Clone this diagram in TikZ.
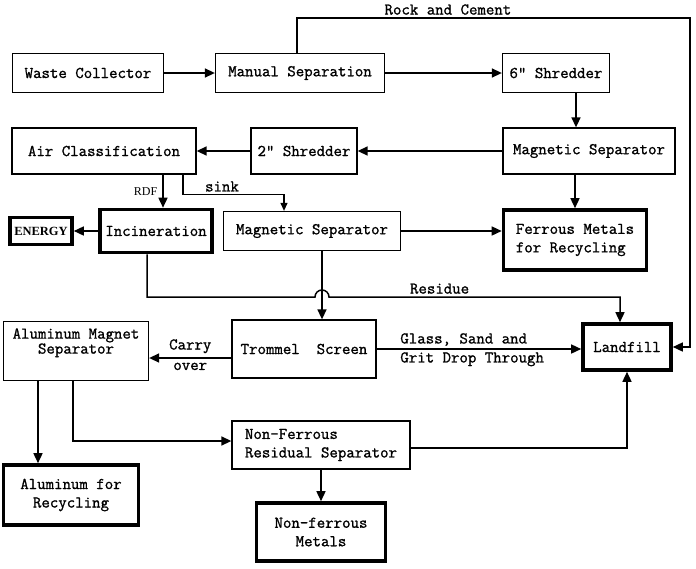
\documentclass[tikz,border=0pt]{standalone}
\usepackage{fontspec}
\setmonofont{Latin Modern Mono}[FakeBold=1.2]
\newfontfamily\serifrm{Liberation Serif}
\usepackage{tikz}
\usetikzlibrary{
  arrows.meta
}
\tikzset{
  box/.style={
    draw,
    line width=1.3pt,
    align=center,
    inner sep=0pt
  },
  endbox/.style={
    box,
    line width=3.6pt
  },
  flow/.style={
    -{Triangle[length=10pt,width=9pt]},
    line width=1.5pt
  },
  thinflow/.style={
    -{Triangle[length=8pt,width=7pt]},
    line width=1.2pt
  },
  tag/.style={
    inner sep=2.5pt
  }
}

\begin{document}
\begin{tikzpicture}[
  x=1pt,
  y=-1pt,
  font=\ttfamily\fontsize{16.4}{18.5}\selectfont
]

  \useasboundingbox (0,0) rectangle (696,568);

  % top row
  \node[
    box,
    minimum width=151pt,
    minimum height=39pt
  ] (waste) at (88,73) {Waste Collector};

  \node[
    box,
    minimum width=169pt,
    minimum height=39pt
  ] (manual) at (300,73) {Manual Separation};

  \node[
    box,
    minimum width=107pt,
    minimum height=39pt
  ] (shred6) at (556,73) {6" Shredder};

  % second row
  \node[
    box,
    minimum width=172pt,
    minimum height=46pt
  ] (magsep1) at (589,151) {Magnetic Separator};

  \node[
    box,
    minimum width=106pt,
    minimum height=46pt
  ] (shred2) at (304,151) {2" Shredder};

  \node[
    box,
    minimum width=184pt,
    minimum height=46pt
  ] (air) at (104,151) {Air Classification};

  % third row
  \node[
    endbox,
    minimum width=62pt,
    minimum height=27pt,
    font=\serifrm\bfseries\fontsize{12.5}{14}\selectfont
  ] (energy) at (41,231) {ENERGY};

  \node[
    endbox,
    minimum width=112pt,
    minimum height=43pt
  ] (incin) at (156,231) {Incineration};

  \node[
    box,
    minimum width=177pt,
    minimum height=39pt
  ] (magsep2) at (312,231) {Magnetic Separator};

  \node[
    endbox,
    minimum width=143pt,
    minimum height=60pt,
    align=left
  ] (ferrous) at (575,240) {
    Ferrous Metals\\
    for Recycling
  };

  % fourth row
  \node[
    box,
    minimum width=144pt,
    minimum height=58pt
  ] (trommel) at (304,349) {Trommel\ \ Screen};

  \node[
    endbox,
    minimum width=88pt,
    minimum height=46pt
  ] (landfill) at (627,347) {Landfill};

  \node[
    box,
    minimum width=145pt,
    minimum height=59pt
  ] (alsep) at (76,351) {};

  \node[
    align=center,
    anchor=north,
    font=\ttfamily\fontsize{16.4}{13.5}\selectfont
  ] (alseptext) at ([yshift=-4pt]alsep.north) {
    Aluminum Magnet\\
    Separator
  };

  % bottom rows
  \node[
    box,
    minimum width=178pt,
    minimum height=48pt,
    align=left
  ] (nfrs) at (321,445) {
    Non-Ferrous\\
    Residual Separator
  };

  \node[
    endbox,
    minimum width=135pt,
    minimum height=60pt
  ] (alrec) at (71,495) {
    Aluminum for\\
    Recycling
  };

  \node[
    endbox,
    minimum width=129pt,
    minimum height=58pt
  ] (nfmet) at (321,532) {
    Non-ferrous\\
    Metals
  };

  % helper points
  \coordinate (rockCorner) at (690,18);
  \coordinate (sinkEnd) at ([xshift=-28pt]magsep2.north);
  \coordinate (hopStart) at (315,297);
  \coordinate (resDrop) at ([xshift=-7pt]landfill.north);

  % connectors
  \draw[flow] (waste) -- (manual);
  \draw[flow] (manual) -- (shred6);

  \draw[flow]
  ([xshift=-3pt]manual.north) --
  ([xshift=-3pt]manual.north |- rockCorner) --
  node[
    tag,
    above,
    pos=0.384
  ] {
    Rock and Cement
  }
  (rockCorner) |- (landfill.east);

  \draw[flow]
  ([xshift=20pt]shred6.south) --
  ([xshift=20pt]shred6.south |- magsep1.north);

  \draw[flow] (magsep1) -- (shred2);
  \draw[flow] (shred2) -- (air);
  \draw[flow] (magsep1.south -| ferrous.north) -- (ferrous.north);

  \draw[flow]
  ([xshift=7pt]incin.north |- air.south) --
  node[
    tag,
    left,
    inner sep=5pt,
    font=\serifrm\fontsize{12}{14}\selectfont
  ] {
    RDF
  }
  ([xshift=7pt]incin.north);

  \draw[thinflow]
  ([xshift=79pt]air.south) -- ++(0,20) coordinate (sinkBend) --
  node[
    tag,
    above,
    pos=0.386
  ] {
    sink
  }
  (sinkBend -| sinkEnd) -- (sinkEnd);

  \draw[flow] (incin) -- (energy);
  \draw[flow] (magsep2.east) -- (magsep2.east -| ferrous.west);

  \draw[flow]
  ([xshift=10pt]magsep2.south) --
  ([xshift=10pt]magsep2.south |- trommel.north);

  \draw[flow]
  ([xshift=-9pt]incin.south) |- (hopStart)
  arc[start angle=180, end angle=0, radius=7pt] --
  node[
    tag,
    above,
    pos=0.38
  ] {
    Residue
  }
  (resDrop |- hopStart) -- (resDrop);

  \draw[flow]
  (trommel.east) --
  node[
    tag,
    anchor=south west,
    pos=0.1
  ] {
    Glass, Sand and
  }
  node[
    tag,
    anchor=north west,
    pos=0.1
  ] {
    Grit Drop Through
  }
  (trommel.east -| landfill.west);

  \draw[flow]
  ([yshift=-9pt]trommel.west) --
  node[
    tag,
    above,
    inner sep=4pt
  ] {
    Carry
  }
  node[
    tag,
    below,
    inner sep=4pt
  ] {
    over
  }
  ([yshift=-9pt]trommel.west -| alsep.east);

  \draw[flow]
  ([xshift=-33pt]alrec.north |- alsep.south) --
  ([xshift=-33pt]alrec.north);

  \draw[flow]
  ([xshift=-3pt]alsep.south) |- ([yshift=4pt]nfrs.west);

  \draw[flow] (nfrs) -- (nfmet);
  \draw[flow] ([yshift=-3pt]nfrs.east) -| (landfill.south);

\end{tikzpicture}
\end{document}
